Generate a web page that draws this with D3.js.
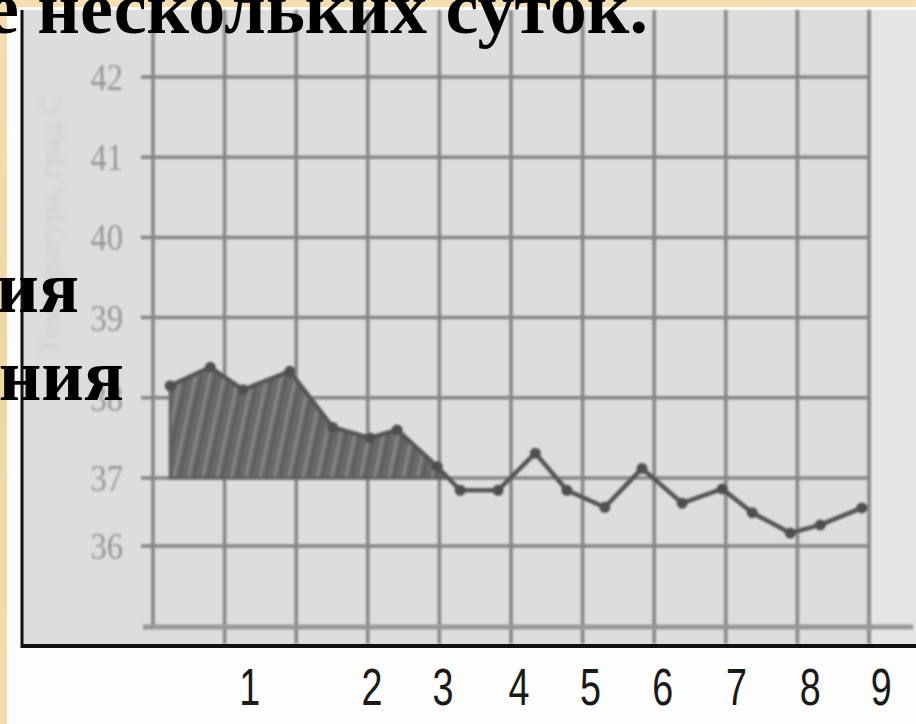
<!DOCTYPE html>
<html>
<head>
<meta charset="utf-8">
<script src="https://cdn.jsdelivr.net/npm/d3@7"></script>
<style>
  html, body { margin: 0; padding: 0; background: #fff; }
  svg { display: block; }
</style>
</head>
<body>
<svg id="chart" width="916" height="724"></svg>
<script>
// temperature curve, x in grid-cell units (0 = y axis), t in deg C
var pointPos = [0.24, 0.80, 1.26, 1.91, 2.51, 3.03, 3.41, 3.97, 4.29, 4.82,
                5.34, 5.78, 6.31, 6.83, 7.39, 7.95, 8.37, 8.90, 9.32, 9.90];
var temps = [38.15, 38.38, 38.10, 38.33, 37.63, 37.50, 37.60, 37.14, 36.82, 36.82,
             37.31, 36.82, 36.57, 37.12, 36.63, 36.84, 36.49, 36.19, 36.31, 36.56];
var feverCount = 8;   // first points of the shaded part (above 37)
var baseTemp = 37;

var yTicks = [36, 37, 38, 39, 40, 41, 42];
var gridCols = [0, 1, 2, 3, 4, 5, 6, 7, 8, 9, 10];
var dayLabels = ["1", "2", "3", "4", "5", "6", "7", "8", "9"];
var dayLabelPos = [1.35, 3.06, 4.05, 5.11, 6.11, 7.12, 8.15, 9.18, 10.17];

var yTitle = "Температура, град С";
var topText = "е нескольких суток.";
var sideText = ["ия", "ния"];

var svg = d3.select("#chart"),
    W = +svg.attr("width"),
    H = +svg.attr("height");

var x = d3.scaleLinear().domain([0, 10]).range([153, 869]);
// the scan is not even: 36-37 step is shorter than the others
var y = d3.scaleLinear().domain([35, 36, 37, 42]).range([627, 546, 478, 77]);

var defs = svg.append("defs");
defs.append("filter").attr("id", "scan")
    .append("feGaussianBlur").attr("stdDeviation", 0.9);
defs.append("filter").attr("id", "scanText")
    .append("feGaussianBlur").attr("stdDeviation", 1.3);
defs.append("filter").attr("id", "faint")
    .append("feGaussianBlur").attr("stdDeviation", 2.2);

var beige = defs.append("linearGradient").attr("id", "beige")
    .attr("x1", 0).attr("y1", 0).attr("x2", 0).attr("y2", 1);
beige.append("stop").attr("offset", "0%").attr("stop-color", "#f3dfb3");
beige.append("stop").attr("offset", "50%").attr("stop-color", "#efd7a6");
beige.append("stop").attr("offset", "100%").attr("stop-color", "#f2ddb2");

// hatched dark fill of the fever area
var pat = defs.append("pattern").attr("id", "hatch")
    .attr("patternUnits", "userSpaceOnUse")
    .attr("width", 14).attr("height", 40)
    .attr("patternTransform", "rotate(12)");
pat.append("rect").attr("width", 14).attr("height", 40).attr("fill", "#696969");
pat.append("rect").attr("x", 2).attr("width", 3).attr("height", 40).attr("fill", "#858585");
pat.append("rect").attr("x", 8).attr("width", 2).attr("height", 40).attr("fill", "#585858");

// slide background
svg.append("rect").attr("width", W).attr("height", H).attr("fill", "url(#beige)");
svg.append("rect").attr("x", 7).attr("y", 7).attr("width", W - 7).attr("height", H - 7)
    .attr("fill", "#fdfdfd");

// scanned panel
svg.append("rect").attr("x", 22).attr("y", 10).attr("width", W - 22).attr("height", 637)
    .attr("fill", "#dddddd");
svg.append("rect").attr("x", 872).attr("y", 10).attr("width", W - 872).attr("height", 637)
    .attr("fill", "#e5e5e5");

var g = svg.append("g").attr("filter", "url(#scan)");

g.selectAll(".vgrid")
    .data(gridCols)
    .enter().append("line")
    .attr("class", "vgrid")
    .attr("x1", function(d) { return x(d); })
    .attr("x2", function(d) { return x(d); })
    .attr("y1", 10)
    .attr("y2", function(d) { return d == 0 ? y(35) : 644; })
    .attr("stroke", "#858585")
    .attr("stroke-width", 3.5);

g.selectAll(".hgrid")
    .data(yTicks)
    .enter().append("line")
    .attr("class", "hgrid")
    .attr("x1", x(0) - 12)
    .attr("x2", x(10))
    .attr("y1", function(d) { return y(d); })
    .attr("y2", function(d) { return y(d); })
    .attr("stroke", "#858585")
    .attr("stroke-width", 3.5);

// bottom axis line
g.append("line")
    .attr("x1", x(0) - 10).attr("x2", 913)
    .attr("y1", y(35)).attr("y2", y(35))
    .attr("stroke", "#979797").attr("stroke-width", 5);

// shaded part: from the first point to where the curve drops to 37
var fever = [];
for (var i = 0; i < feverCount; i++) fever.push([pointPos[i], temps[i]]);
var a = feverCount - 1, b = feverCount;
var f = (temps[a] - baseTemp) / (temps[a] - temps[b]);
fever.push([pointPos[a] + f * (pointPos[b] - pointPos[a]), baseTemp]);

var area = d3.area()
    .x(function(d) { return x(d[0]); })
    .y0(y(baseTemp))
    .y1(function(d) { return y(d[1]); });

g.append("path")
    .datum(fever)
    .attr("d", area)
    .attr("fill", "url(#hatch)")
    .attr("stroke", "#606060")
    .attr("stroke-width", 3);

var pts = pointPos.map(function(p, i) { return [p, temps[i]]; });

var line = d3.line()
    .x(function(d) { return x(d[0]); })
    .y(function(d) { return y(d[1]); });

g.append("path")
    .datum(pts)
    .attr("d", line)
    .attr("fill", "none")
    .attr("stroke", "#555")
    .attr("stroke-width", 4.5)
    .attr("stroke-linejoin", "round");

g.selectAll(".dot")
    .data(pts)
    .enter().append("circle")
    .attr("class", "dot")
    .attr("cx", function(d) { return x(d[0]); })
    .attr("cy", function(d) { return y(d[1]); })
    .attr("r", 5.5)
    .attr("fill", "#4f4f4f");

// faded y labels of the scan
var yl = svg.append("g").attr("filter", "url(#scanText)");
yl.selectAll(".ylab")
    .data(yTicks)
    .enter().append("text")
    .attr("class", "ylab")
    .attr("transform", function(d) { return "translate(123," + y(d) + ") scale(0.88,1)"; })
    .attr("dy", "0.35em")
    .attr("text-anchor", "end")
    .attr("font-family", "Liberation Serif, serif")
    .attr("font-size", 37)
    .attr("fill", "#969696")
    .text(function(d) { return d; });

svg.append("text")
    .attr("filter", "url(#faint)")
    .attr("transform", "translate(60,95) rotate(-90)")
    .attr("text-anchor", "end")
    .attr("font-family", "Liberation Serif, serif")
    .attr("font-size", 30)
    .attr("fill", "#c4c4c4")
    .attr("opacity", 0.7)
    .text(yTitle);

// black frame of the picture
svg.append("line").attr("x1", 22).attr("x2", 22).attr("y1", 10).attr("y2", 648)
    .attr("stroke", "#111").attr("stroke-width", 3);
svg.append("line").attr("x1", 21).attr("x2", W).attr("y1", 646).attr("y2", 646)
    .attr("stroke", "#111").attr("stroke-width", 4);

// day numbers under the picture (narrow, tall digits)
svg.selectAll(".xlab")
    .data(dayLabels)
    .enter().append("text")
    .attr("class", "xlab")
    .attr("transform", function(d, i) { return "translate(" + x(dayLabelPos[i]) + ",705) scale(0.74,1)"; })
    .attr("text-anchor", "middle")
    .attr("font-family", "Liberation Sans, sans-serif")
    .attr("font-size", 51)
    .attr("fill", "#1a1a1a")
    .text(function(d) { return d; });

// slide text over the picture
var bold = { "font-family": "Liberation Serif, Times New Roman, serif", "font-weight": "bold", "font-size": 74 };
var t = svg.append("text").attr("x", 648).attr("y", 33).attr("text-anchor", "end").text(topText);
var s1 = svg.append("text").attr("x", 79).attr("y", 312).attr("text-anchor", "end").text(sideText[0]);
var s2 = svg.append("text").attr("x", 124).attr("y", 400).attr("text-anchor", "end").text(sideText[1]);
[t, s1, s2].forEach(function(el) {
    for (var k in bold) el.attr(k, bold[k]);
    el.attr("fill", "#000");
});
</script>
</body>
</html>
